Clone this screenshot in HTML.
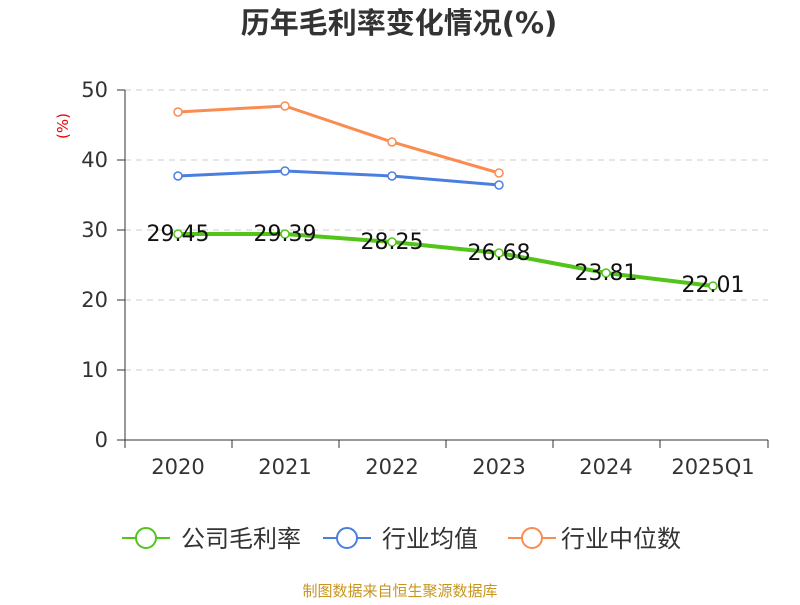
<!DOCTYPE html>
<html><head><meta charset="utf-8"><style>
body{margin:0;background:#fff;}
svg text{font-family:"DejaVu Sans","Noto Sans CJK SC",sans-serif;}
</style></head><body>
<svg width="800" height="600" xmlns="http://www.w3.org/2000/svg">
<rect width="800" height="600" fill="#fff"/>
<text x="399" y="33" text-anchor="middle" font-size="29" font-weight="bold" fill="#333">历年毛利率变化情况(%)</text>
<g stroke="#ccc" stroke-dasharray="6,5" stroke-width="1">
<line x1="125" y1="90" x2="768" y2="90"/><line x1="125" y1="160" x2="768" y2="160"/>
<line x1="125" y1="230" x2="768" y2="230"/><line x1="125" y1="300" x2="768" y2="300"/>
<line x1="125" y1="370" x2="768" y2="370"/></g>
<g stroke="#333" stroke-width="1">
<line x1="125" y1="90" x2="125" y2="440"/><line x1="125" y1="440" x2="768" y2="440"/>
<line x1="117" y1="90" x2="125" y2="90"/><line x1="117" y1="160" x2="125" y2="160"/>
<line x1="117" y1="230" x2="125" y2="230"/><line x1="117" y1="300" x2="125" y2="300"/>
<line x1="117" y1="370" x2="125" y2="370"/><line x1="117" y1="440" x2="125" y2="440"/>
<line x1="125" y1="440" x2="125" y2="448"/><line x1="232" y1="440" x2="232" y2="448"/>
<line x1="339" y1="440" x2="339" y2="448"/><line x1="446" y1="440" x2="446" y2="448"/>
<line x1="553" y1="440" x2="553" y2="448"/><line x1="660" y1="440" x2="660" y2="448"/>
<line x1="768" y1="440" x2="768" y2="448"/></g>
<g font-size="21" fill="#333" text-anchor="end">
<text x="108" y="97">50</text><text x="108" y="167">40</text><text x="108" y="237">30</text>
<text x="108" y="307">20</text><text x="108" y="377">10</text><text x="108" y="447">0</text></g>
<text x="68" y="126" font-size="15" fill="#e00" text-anchor="middle" transform="rotate(-90 68 126)">(%)</text>
<g font-size="21" fill="#333" text-anchor="middle">
<text x="178" y="474">2020</text><text x="285" y="474">2021</text><text x="392" y="474">2022</text>
<text x="499" y="474">2023</text><text x="606" y="474">2024</text><text x="713" y="474">2025Q1</text></g>
<polyline points="178,112 285,106 392,142 499,173" fill="none" stroke="#fa8c52" stroke-width="3"/>
<polyline points="178,176 285,171 392,176 499,185" fill="none" stroke="#4a7fe0" stroke-width="3"/>
<polyline points="178,234 285,234 392,242 499,253 606,273 713,286" fill="none" stroke="#52c41a" stroke-width="4"/>
<g fill="#fff" stroke-width="1.5">
<g stroke="#fa8c52"><circle cx="178" cy="112" r="4"/><circle cx="285" cy="106" r="4"/><circle cx="392" cy="142" r="4"/><circle cx="499" cy="173" r="4"/></g>
<g stroke="#4a7fe0"><circle cx="178" cy="176" r="4"/><circle cx="285" cy="171" r="4"/><circle cx="392" cy="176" r="4"/><circle cx="499" cy="185" r="4"/></g>
<g stroke="#52c41a"><circle cx="178" cy="234" r="4"/><circle cx="285" cy="234" r="4"/><circle cx="392" cy="242" r="4"/><circle cx="499" cy="253" r="4"/><circle cx="606" cy="273" r="4"/><circle cx="713" cy="286" r="4"/></g>
</g>
<g font-size="22" fill="#111" text-anchor="middle">
<text x="178" y="241">29.45</text><text x="285" y="241">29.39</text><text x="392" y="249">28.25</text>
<text x="499" y="260">26.68</text><text x="606" y="280">23.81</text><text x="713" y="292">22.01</text></g>
<g stroke-width="2" fill="#fff">
<line x1="122" y1="538" x2="170" y2="538" stroke="#52c41a"/><circle cx="146" cy="538" r="10" stroke="#52c41a"/>
<line x1="323" y1="538" x2="371" y2="538" stroke="#4a7fe0"/><circle cx="347" cy="538" r="10" stroke="#4a7fe0"/>
<line x1="508" y1="538" x2="556" y2="538" stroke="#fa8c52"/><circle cx="532" cy="538" r="10" stroke="#fa8c52"/>
</g>
<g font-size="24" fill="#333">
<text x="181" y="547">公司毛利率</text><text x="382" y="547">行业均值</text><text x="561" y="547">行业中位数</text></g>
<text x="400" y="596" font-size="15" fill="#c8961e" text-anchor="middle">制图数据来自恒生聚源数据库</text>
</svg>
</body></html>
